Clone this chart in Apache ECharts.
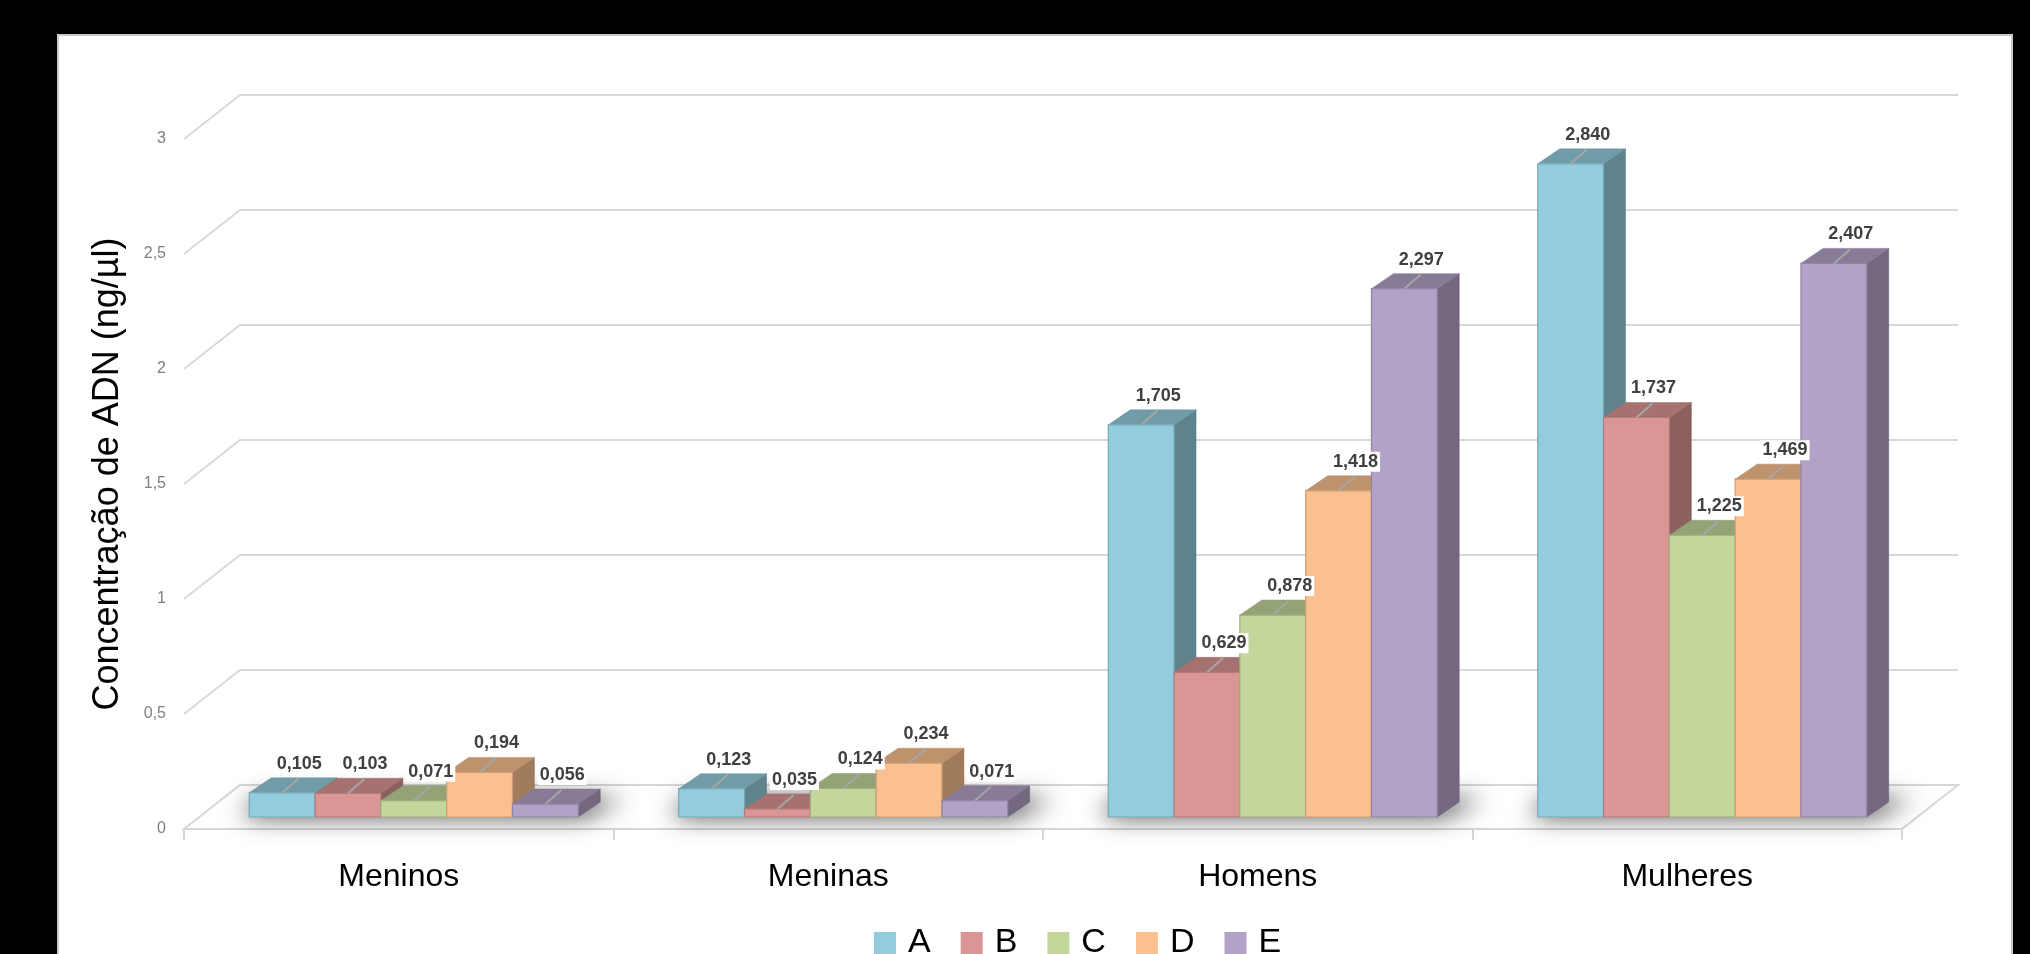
<!DOCTYPE html>
<html>
<head>
<meta charset="utf-8">
<script src="https://cdn.jsdelivr.net/npm/echarts@6/dist/echarts.min.js"></script>
<style>
  html, body { margin: 0; padding: 0; background: #000; width: 2030px; height: 954px; overflow: hidden; }
  #panel { position: absolute; left: 57px; top: 34px; width: 1956px; height: 930px; background: #fff; border: 2px solid #c9c9c9; box-sizing: border-box; }
  #chart { position: absolute; left: 0; top: 0; width: 2030px; height: 954px; }
</style>
</head>
<body>
<div id="panel"></div>
<div id="chart"></div>
<script>
// ---- data ----
const categories = ['Meninos', 'Meninas', 'Homens', 'Mulheres'];
const seriesNames = ['A', 'B', 'C', 'D', 'E'];
const valuesA = [0.105, 0.123, 1.705, 2.840];
const valuesB = [0.103, 0.035, 0.629, 1.737];
const valuesC = [0.071, 0.124, 0.878, 1.225];
const valuesD = [0.194, 0.234, 1.418, 1.469];
const valuesE = [0.056, 0.071, 2.297, 2.407];
const yTicks = [0, 0.5, 1, 1.5, 2, 2.5, 3];
const allValues = [valuesA, valuesB, valuesC, valuesD, valuesE];

// ---- styles ----
const frontColors = ['#93CDDD', '#D99694', '#C3D69B', '#FAC090', '#B3A2C7'];
const GROUP = 0.766;         // fraction of category band used by the bar group
const FX = 15, FY = -12;     // bar front face offset from the front plane
const DX = 22, DY = -15;     // bar depth
const BX = 56, BY = -44;     // back wall offset
const SHIFT = 4000;          // off-canvas shift used to draw only a blurred shadow

function shade(hex, f) {
  const n = parseInt(hex.slice(1), 16);
  const r = Math.round(((n >> 16) & 255) * f);
  const g = Math.round(((n >> 8) & 255) * f);
  const b = Math.round((n & 255) * f);
  return 'rgb(' + r + ',' + g + ',' + b + ')';
}

function barGeom(api, i, s, v) {
  const base = api.coord([i, 0]);
  const top = api.coord([i, v]);
  const band = api.size([1, 0])[0];
  const bw = band * GROUP / 5;
  const x0 = base[0] - band * GROUP / 2 + s * bw + FX;
  return { x0: x0, bw: bw, yB: base[1] + FY, yT: top[1] + FY, band: band, cx: base[0] };
}

const chart = echarts.init(document.getElementById('chart'), null, { renderer: 'canvas' });

// gridlines / floor
const gridSeries = {
  type: 'custom',
  name: 'grid3d',
  silent: true,
  z: 1,
  data: yTicks.map(v => [0, v]),
  encode: { x: 0, y: 1 },
  renderItem: function (params, api) {
    const cs = params.coordSys;
    const v = api.value(1);
    const y = api.coord([0, v])[1];
    const L = cs.x, R = cs.x + cs.width;
    if (v === 0) {
      return {
        type: 'polygon',
        shape: { points: [[L, y], [R, y], [R + BX, y + BY], [L + BX, y + BY]] },
        style: { fill: '#ffffff', stroke: '#d6d6d6', lineWidth: 2 }
      };
    }
    return {
      type: 'polyline',
      shape: { points: [[L, y], [L + BX, y + BY], [R + BX, y + BY]] },
      style: { fill: null, stroke: '#d9d9d9', lineWidth: 2 }
    };
  }
};

// floor shadow (only the blurred shadow is visible on canvas)
const shadowSeries = {
  type: 'custom',
  name: 'shadow',
  silent: true,
  z: 2,
  data: categories.map((c, i) => [i, 0]),
  encode: { x: 0, y: 1 },
  renderItem: function (params, api) {
    const i = api.value(0);
    const g0 = barGeom(api, i, 0, 0);
    const g4 = barGeom(api, i, 4, 0);
    const xl = g0.x0, xr = g4.x0 + g4.bw, y = g0.yB;
    const pts = [[xl - 8, y - 1], [xr + 6, y - 1], [xr + DX + 24, y + DY - 3], [xl + DX - 12, y + DY - 3]];
    return {
      type: 'polygon',
      shape: { points: pts.map(p => [p[0] + SHIFT, p[1]]) },
      style: { fill: '#000', shadowBlur: 24, shadowColor: 'rgba(0,0,0,0.82)', shadowOffsetX: -SHIFT, shadowOffsetY: 0 }
    };
  }
};

function makeBarSeries(s) {
  const front = frontColors[s];
  return {
    type: 'custom',
    name: seriesNames[s],
    z: 3,
    itemStyle: { color: front },
    data: categories.map((c, i) => [i, allValues[s][i]]),
    encode: { x: 0, y: 1 },
    renderItem: function (params, api) {
      const i = api.value(0), v = api.value(1);
      const g = barGeom(api, i, s, v);
      const x0 = g.x0, x1 = g.x0 + g.bw, yB = g.yB, yT = g.yT;
      return {
        type: 'group',
        children: [
          { type: 'polygon', shape: { points: [[x1, yT], [x1 + DX, yT + DY], [x1 + DX, yB + DY], [x1, yB]] },
            style: { fill: shade(front, 0.64), stroke: shade(front, 0.6), lineWidth: 0.5 } },
          { type: 'polygon', shape: { points: [[x0, yT], [x1, yT], [x1 + DX, yT + DY], [x0 + DX, yT + DY]] },
            style: { fill: shade(front, 0.76), stroke: shade(front, 0.72), lineWidth: 0.5 } },
          { type: 'rect', shape: { x: x0, y: yT, width: g.bw, height: yB - yT },
            style: { fill: front, stroke: shade(front, 0.82), lineWidth: 1.2 } }
        ]
      };
    }
  };
}

// labels series
const labelData = [];
for (let s = 0; s < 5; s++) for (let i = 0; i < categories.length; i++) labelData.push([i, allValues[s][i], s]);
const labelSeries = {
  type: 'custom',
  name: 'labels',
  silent: true,
  z: 10,
  data: labelData,
  encode: { x: 0, y: 1 },
  renderItem: function (params, api) {
    const i = api.value(0), v = api.value(1), s = api.value(2);
    const g = barGeom(api, i, s, v);
    const xc = g.x0 + g.bw / 2;
    return {
      type: 'group',
      children: [
        { type: 'line', shape: { x1: xc, y1: g.yT, x2: xc + 16, y2: g.yT - 14 },
          style: { stroke: '#a6a6a6', lineWidth: 2 } },
        { type: 'text', x: xc + 17, y: g.yT - 29,
          style: { text: v.toFixed(3).replace('.', ','), fill: '#404040', fontSize: 18, fontWeight: 'bold',
                   fontFamily: 'Liberation Sans', align: 'center', verticalAlign: 'middle',
                   backgroundColor: '#ffffff', padding: [1, 2] } }
      ]
    };
  }
};

const option = {
  animation: false,
  grid: { left: 184, right: 128, top: 139, bottom: 125 },
  xAxis: {
    type: 'category',
    data: categories,
    boundaryGap: true,
    axisLine: { show: false },
    axisTick: { show: true, length: 11, lineStyle: { color: '#d6d6d6', width: 2 } },
    axisLabel: { color: '#000', fontSize: 32, fontFamily: 'Liberation Sans', margin: 32 }
  },
  yAxis: {
    type: 'value',
    min: 0, max: 3, interval: 0.5,
    name: 'Concentração de ADN (ng/µl)',
    nameLocation: 'middle',
    nameGap: 58,
    nameRotate: 90,
    nameTextStyle: { color: '#000', fontSize: 36, fontFamily: 'Liberation Sans', padding: [0, 0, 0, 20] },
    axisLine: { show: false },
    axisTick: { show: false },
    splitLine: { show: false },
    axisLabel: { color: '#7f7f7f', fontSize: 16, fontFamily: 'Liberation Sans', margin: 18,
                 formatter: v => String(v).replace('.', ',') }
  },
  legend: {
    data: seriesNames,
    left: 874,
    top: 926,
    icon: 'rect',
    itemWidth: 22,
    itemHeight: 22,
    itemGap: 30,
    padding: 0,
    textStyle: { color: '#000', fontSize: 34, fontFamily: 'Liberation Sans', padding: [0, 0, 0, 7] }
  },
  series: [gridSeries, shadowSeries].concat(seriesNames.map((n, s) => makeBarSeries(s))).concat([labelSeries])
};
chart.setOption(option);
</script>
</body>
</html>
